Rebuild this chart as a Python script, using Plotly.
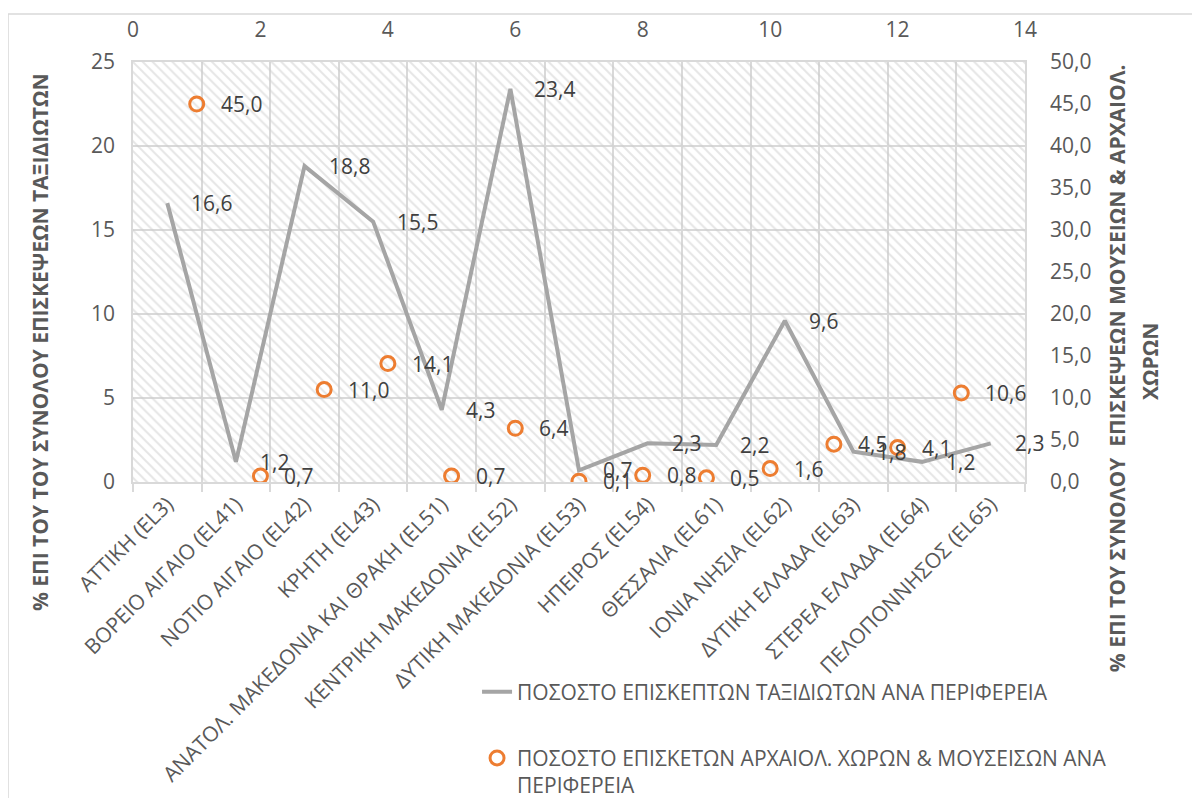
import plotly.graph_objects as go

categories = ["ΑΤΤΙΚΗ (EL3)", "ΒΟΡΕΙΟ ΑΙΓΑΙΟ (EL41)", "ΝΟΤΙΟ ΑΙΓΑΙΟ (EL42)", "ΚΡΗΤΗ (EL43)",
              "ΑΝΑΤΟΛ. ΜΑΚΕΔΟΝΙΑ ΚΑΙ ΘΡΑΚΗ (EL51)", "ΚΕΝΤΡΙΚΗ ΜΑΚΕΔΟΝΙΑ (EL52)",
              "ΔΥΤΙΚΗ ΜΑΚΕΔΟΝΙΑ (EL53)", "ΗΠΕΙΡΟΣ (EL54)", "ΘΕΣΣΑΛΙΑ (EL61)",
              "ΙΟΝΙΑ ΝΗΣΙΑ (EL62)", "ΔΥΤΙΚΗ ΕΛΛΑΔΑ (EL63)", "ΣΤΕΡΕΑ ΕΛΛΑΔΑ (EL64)",
              "ΠΕΛΟΠΟΝΝΗΣΟΣ (EL65)"]
travellers_pct = [16.6, 1.2, 18.8, 15.5, 4.3, 23.4, 0.7, 2.3, 2.2, 9.6, 1.8, 1.2, 2.3]
museum_x = [1, 2, 3, 4, 5, 6, 7, 8, 9, 10, 11, 12, 13]
museum_pct = [45.0, 0.7, 11.0, 14.1, 0.7, 6.4, 0.1, 0.8, 0.5, 1.6, 4.5, 4.1, 10.6]

line_name = "ΠΟΣΟΣΤΟ ΕΠΙΣΚΕΠΤΩΝ ΤΑΞΙΔΙΩΤΩΝ ΑΝΑ ΠΕΡΙΦΕΡΕΙΑ"
scatter_name = "ΠΟΣΟΣΤΟ ΕΠΙΣΚΕΤΩΝ ΑΡΧΑΙΟΛ. ΧΩΡΩΝ & ΜΟΥΣΕΙΣΩΝ ΑΝΑ<br>ΠΕΡΙΦΕΡΕΙΑ"
left_title = "% ΕΠΙ ΤΟΥ ΤΟΥ ΣΥΝΟΛΟΥ ΕΠΙΣΚΕΨΕΩΝ ΤΑΞΙΔΙΩΤΩΝ"
right_title_1 = "% ΕΠΙ ΤΟΥ ΣΥΝΟΛΟΥ  ΕΠΙΣΚΕΨΕΩΝ ΜΟΥΣΕΙΩΝ & ΑΡΧΑΙΟΛ."
right_title_2 = "ΧΩΡΩΝ"

FONT = "Open Sans"
FS = 21
TXT = "#595959"
LBL = "#404040"
GRID = "#d9d9d9"

def fmt(v):
    return f"{v:.1f}".replace(".", ",")

fig = go.Figure()

# hatched plot-area background (decoration on hidden base axes)
fig.add_trace(go.Scatter(
    x=[0, 1, 1, 0, 0], y=[0, 0, 1, 1, 0], xaxis="x", yaxis="y",
    mode="lines", fill="toself", fillcolor="rgba(0,0,0,0)",
    fillpattern=dict(shape="\\", fgcolor="#cccccc", bgcolor="rgba(0,0,0,0)", size=7, solidity=0.28),
    line=dict(width=0), showlegend=False, hoverinfo="skip"))

fig.add_trace(go.Scatter(
    x=categories, y=travellers_pct, xaxis="x2", yaxis="y2", mode="lines",
    line=dict(color="#a5a5a5", width=4), name=line_name, legend="legend"))

fig.add_trace(go.Scatter(
    x=museum_x, y=museum_pct, xaxis="x3", yaxis="y3", mode="markers",
    marker=dict(symbol="circle-open", size=14, color="#ed7d31", line=dict(width=3, color="#ed7d31")),
    name=scatter_name, legend="legend2"))

annotations = []
for c, v in zip(categories, travellers_pct):
    annotations.append(dict(x=c, y=v, xref="x2", yref="y2", text=fmt(v), showarrow=False,
                            xanchor="left", yanchor="middle", xshift=22,
                            font=dict(family=FONT, size=FS, color=LBL)))
for xv, v in zip(museum_x, museum_pct):
    annotations.append(dict(x=xv, y=v, xref="x3", yref="y3", text=fmt(v), showarrow=False,
                            xanchor="left", yanchor="middle", xshift=22,
                            font=dict(family=FONT, size=FS, color=LBL)))

# axis titles
annotations.append(dict(x=-0.1043, y=0.333, xref="paper", yref="paper", text="<b>" + left_title + "</b>",
                        textangle=-90, showarrow=False, xanchor="center", yanchor="middle",
                        font=dict(family=FONT, size=FS, color=TXT)))
annotations.append(dict(x=1.1031, y=0.271, xref="paper", yref="paper", text="<b>" + right_title_1 + "</b>",
                        textangle=-90, showarrow=False, xanchor="center", yanchor="middle",
                        font=dict(family=FONT, size=FS, color=TXT)))
annotations.append(dict(x=1.1401, y=0.288, xref="paper", yref="paper", text="<b>" + right_title_2 + "</b>",
                        textangle=-90, showarrow=False, xanchor="center", yanchor="middle",
                        font=dict(family=FONT, size=FS, color=TXT)))

tickfont = dict(family=FONT, size=FS, color=TXT)

fig.update_layout(
    width=1200, height=798,
    margin=dict(l=125, r=183, t=54, b=324, autoexpand=False),
    paper_bgcolor="white", plot_bgcolor="white",
    separators=",.",
    font=dict(family=FONT, size=FS, color=TXT),
    xaxis=dict(visible=False, range=[0, 1], domain=[0, 1], fixedrange=True, automargin=False),
    yaxis=dict(visible=False, range=[0, 1], domain=[0, 1], fixedrange=True, automargin=False),
    xaxis2=dict(overlaying="x", anchor="y2", side="bottom", type="category",
                categoryorder="array", categoryarray=categories, range=[-0.5, 12.5],
                tickson="boundaries", showgrid=True, gridcolor=GRID, gridwidth=1.5,
                ticks="outside", ticklen=8, tickcolor=GRID, tickwidth=1.5,
                showline=True, linecolor=GRID, linewidth=1.5, mirror=True,
                tickangle=-45, tickfont=tickfont, automargin=False),
    yaxis2=dict(overlaying="y", anchor="x2", side="left", range=[0, 25], dtick=5,
                showgrid=True, gridcolor=GRID, gridwidth=1.5, zeroline=False,
                showline=True, linecolor=GRID, linewidth=1.5, mirror=True,
                ticks="", ticklabelstandoff=12, tickfont=tickfont, automargin=False),
    xaxis3=dict(overlaying="x", anchor="y3", side="top", range=[0, 14], dtick=2,
                showgrid=False, zeroline=False, ticks="", ticklabelstandoff=20,
                tickfont=tickfont, automargin=False),
    yaxis3=dict(overlaying="y", anchor="x3", side="right", range=[0, 50], dtick=5,
                tickformat=".1f", showgrid=False, zeroline=False, ticks="",
                ticklabelstandoff=24, tickfont=tickfont, automargin=False),
    legend=dict(x=0.3857, y=-0.5, xanchor="left", yanchor="middle", bgcolor="rgba(0,0,0,0)",
                font=dict(family=FONT, size=FS, color=TXT)),
    legend2=dict(x=0.3857, y=-0.69, xanchor="left", yanchor="middle", bgcolor="rgba(0,0,0,0)",
                 valign="top", font=dict(family=FONT, size=FS, color=TXT)),
    annotations=annotations,
    shapes=[dict(type="rect", xref="paper", yref="paper", x0=-0.1401, y0=-0.78, x1=1.205, y1=1.114,
                 line=dict(color=GRID, width=1.5), fillcolor="rgba(0,0,0,0)", layer="below")],
    showlegend=True,
)

fig.write_html("out.html")
